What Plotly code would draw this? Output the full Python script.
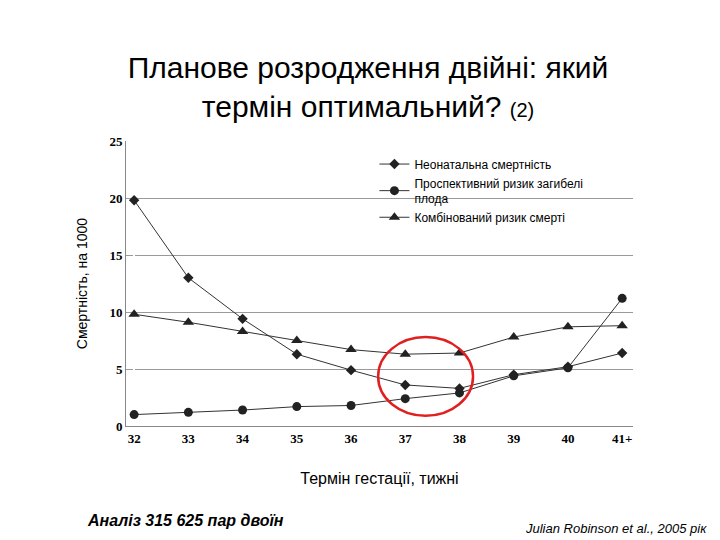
import plotly.graph_objects as go

weeks = ["32", "33", "34", "35", "36", "37", "38", "39", "40", "41+"]
neonatal = [19.8, 13.0, 9.4, 6.3, 4.9, 3.6, 3.3, 4.5, 5.2, 6.4]
fetal = [1.0, 1.2, 1.4, 1.7, 1.8, 2.4, 2.9, 4.4, 5.1, 11.2]
combined = [9.8, 9.1, 8.3, 7.5, 6.7, 6.3, 6.4, 7.8, 8.7, 8.8]

x = list(range(len(weeks)))
line = dict(color="#333333", width=1)

fig = go.Figure()
fig.add_trace(go.Scatter(x=x, y=neonatal, mode="lines+markers", name="Неонатальна смертність",
                         line=line, marker=dict(symbol="diamond", size=8, color="#222")))
fig.add_trace(go.Scatter(x=x, y=fetal, mode="lines+markers", name="Проспективний ризик загибелі<br>плода",
                         line=line, marker=dict(symbol="circle", size=9, color="#222")))
fig.add_trace(go.Scatter(x=x, y=combined, mode="lines+markers", name="Комбінований ризик смерті",
                         line=line, marker=dict(symbol="triangle-up", size=10, color="#222")))

fig.add_shape(type="circle", xref="x", yref="y", x0=4.5, x1=6.25, y0=0.9, y1=7.8,
              line=dict(color="#e02020", width=2.5))

fig.update_layout(
    width=720, height=540, plot_bgcolor="white", paper_bgcolor="white",
    margin=dict(l=118, r=95, t=133, b=122),
    font=dict(family="Liberation Sans", color="black"),
    title=dict(text="Планове розродження двійні: який<br>термін оптимальний? <span style='font-size:20px'>(2)</span>",
               x=0.5, xanchor="center", yref="container", y=0.87, yanchor="middle", font=dict(size=30)),
    legend=dict(x=0.49, y=0.97, xanchor="left", yanchor="top", font=dict(size=12),
                bgcolor="rgba(255,255,255,0)", tracegroupgap=8),
    showlegend=True,
)
fig.update_xaxes(tickvals=x, ticktext=weeks, range=[-0.15, 9.2], showline=True, linecolor="#888",
                 ticks="", showgrid=False,
                 tickfont=dict(family="Liberation Serif", size=13, weight="bold"),
                 title=dict(text="Термін гестації, тижні", font=dict(size=16), standoff=28))
fig.update_yaxes(range=[0, 25], dtick=5, showline=True, linecolor="#888", gridcolor="#999",
                 tickfont=dict(family="Liberation Serif", size=13, weight="bold"), zeroline=False,
                 title=dict(text="Смертність, на 1000", font=dict(size=14), standoff=18))

fig.add_annotation(text="<b><i>Аналіз 315 625 пар двоїн</i></b>", xref="paper", yref="paper",
                   x=-0.08, y=-0.333, xanchor="left", yanchor="middle", showarrow=False, font=dict(size=16))
fig.add_annotation(text="<i>Julian Robinson et al., 2005 рік</i>", xref="paper", yref="paper",
                   x=1.15, y=-0.358, xanchor="right", yanchor="middle", showarrow=False, font=dict(size=13))

fig.write_html("out.html")
